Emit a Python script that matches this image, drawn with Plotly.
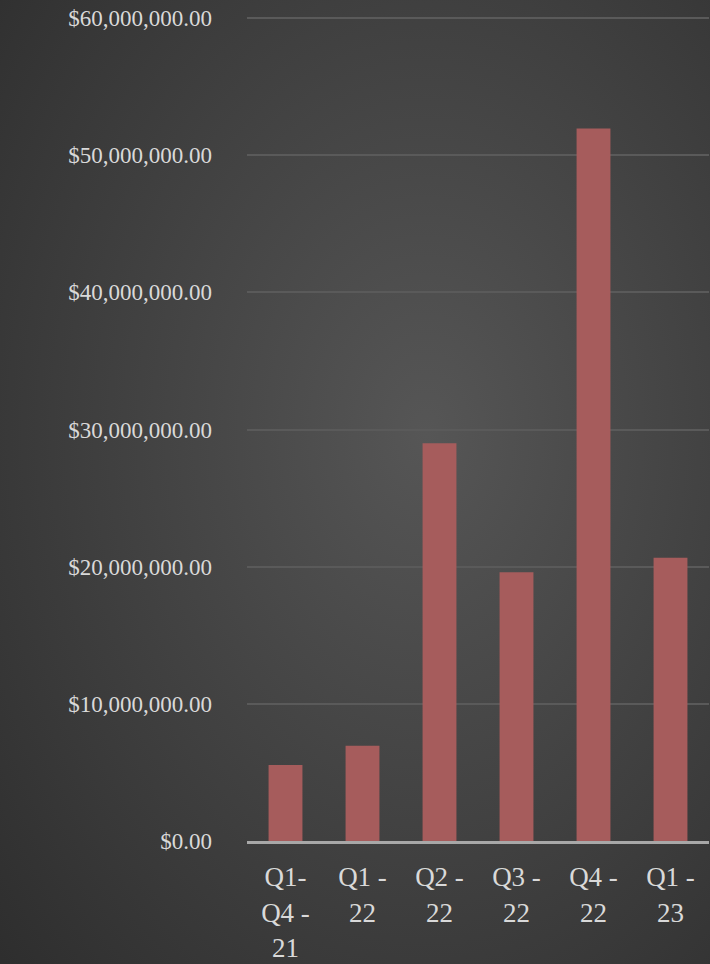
import plotly.graph_objects as go
import base64

categories = ["Q1-<br>Q4 -<br>21", "Q1 -<br>22", "Q2 -<br>22", "Q3 -<br>22", "Q4 -<br>22", "Q1 -<br>23"]
values = [5550000, 6950000, 29000000, 19600000, 51950000, 20650000]
tick_vals = [0, 10000000, 20000000, 30000000, 40000000, 50000000, 60000000]
tick_text = ["$0.00", "$10,000,000.00", "$20,000,000.00", "$30,000,000.00",
             "$40,000,000.00", "$50,000,000.00", "$60,000,000.00"]

W, H = 710, 964
ML, MR, MT, MB = 247, 1, 16, 123
YMAX = 60150000
SERIF = "Liberation Serif, Times New Roman, DejaVu Serif, serif"

svg = f'''<svg xmlns="http://www.w3.org/2000/svg" width="{W}" height="{H}" viewBox="0 0 {W} {H}">
<defs><radialGradient id="g" cx="0.6" cy="0.45" r="0.85" gradientUnits="objectBoundingBox">
<stop offset="0" stop-color="#565656"/><stop offset="1" stop-color="#2c2c2c"/></radialGradient></defs>
<rect width="{W}" height="{H}" fill="url(#g)"/></svg>'''
bg_uri = "data:image/svg+xml;base64," + base64.b64encode(svg.encode()).decode()

pw, ph = W - ML - MR, H - MT - MB

fig = go.Figure()
fig.add_trace(go.Bar(
    x=categories, y=values, width=0.44,
    marker=dict(color="#a65c5c", line=dict(width=0)),
))

fig.update_layout(
    width=W, height=H,
    margin=dict(l=ML, r=MR, t=MT, b=MB),
    paper_bgcolor="#3a3a3a", plot_bgcolor="rgba(0,0,0,0)",
    showlegend=False,
    font=dict(family=SERIF, color="#d9d9d9"),
    images=[dict(source=bg_uri, xref="paper", yref="paper",
                 x=-ML / pw, y=1 + MT / ph, sizex=W / pw, sizey=H / ph,
                 xanchor="left", yanchor="top", sizing="stretch", layer="below")],
)
fig.update_yaxes(range=[0, YMAX], tickvals=tick_vals, ticktext=tick_text,
                 showgrid=True, gridcolor="#5a5a5a", gridwidth=1.5,
                 zeroline=False, showline=False,
                 tickfont=dict(size=23, color="#d9d9d9", family=SERIF),
                 ticklabelstandoff=34)
fig.update_xaxes(showline=True, linecolor="#a8a8a8", linewidth=3,
                 showgrid=False, ticks="",
                 tickfont=dict(size=27, color="#d9d9d9", family=SERIF),
                 ticklabelstandoff=10)

fig.write_html("out.html", config={"displayModeBar": False},
               post_script="document.body.style.margin='0';document.body.style.overflow='hidden';")
